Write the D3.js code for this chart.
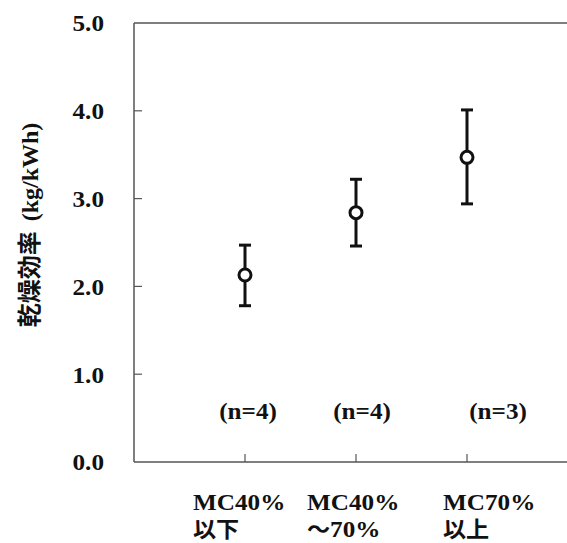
<!DOCTYPE html>
<html>
<head>
<meta charset="utf-8">
<script src="https://cdn.jsdelivr.net/npm/d3@7"></script>
<style>
  body { margin: 0; background: #fff; }
  text { font-family: "Liberation Serif", "Times New Roman", serif; font-weight: bold; fill: #111; }
  .cjk { font-family: "Noto Sans CJK JP", sans-serif; font-weight: bold; }
</style>
</head>
<body>
<svg width="567" height="543"></svg>
<script>
// data
const categories = ["MC40%|以下", "MC40%|〜|70%", "MC70%|以上"];
const means = [2.13, 2.84, 3.47];
const upper = [2.47, 3.22, 4.01];
const lower = [1.78, 2.46, 2.94];
const counts = ["(n=4)", "(n=4)", "(n=3)"];
const yTicks = [0, 1, 2, 3, 4, 5];

const svg = d3.select("svg");

const x = d3.scaleLinear().domain([0, 4]).range([134, 578]);
const y = d3.scaleLinear().domain([0, 5]).range([462, 23]);

// label drift to the right, as in the original
const shift = [0, 3, 28];
const stretch = 1.05;

// frame: left, top, bottom
const axisColor = "#555";
svg.append("line").attr("x1", 134).attr("x2", 134).attr("y1", y(5)).attr("y2", y(0))
  .attr("stroke", axisColor).attr("stroke-width", 1.5);
svg.append("line").attr("x1", 134).attr("x2", 567).attr("y1", y(5)).attr("y2", y(5))
  .attr("stroke", axisColor).attr("stroke-width", 1.5);
svg.append("line").attr("x1", 134).attr("x2", 567).attr("y1", y(0)).attr("y2", y(0))
  .attr("stroke", axisColor).attr("stroke-width", 1.5);

// y ticks
svg.append("g").selectAll("line")
  .data(yTicks.slice(1, -1))
  .join("line")
  .attr("x1", 134).attr("x2", 142)
  .attr("y1", d => y(d)).attr("y2", d => y(d))
  .attr("stroke", axisColor).attr("stroke-width", 1.2);

svg.append("g").selectAll("text")
  .data(yTicks)
  .join("text")
  .attr("transform", d => `translate(104,${y(d)}) scale(${stretch},1)`)
  .attr("text-anchor", "end")
  .attr("dy", "0.35em")
  .style("font-size", "24px")
  .text(d => d.toFixed(1));

// x ticks
svg.append("g").selectAll("line")
  .data(categories)
  .join("line")
  .attr("x1", (d, i) => x(i + 1)).attr("x2", (d, i) => x(i + 1))
  .attr("y1", y(0)).attr("y2", y(0) - 8)
  .attr("stroke", axisColor).attr("stroke-width", 1.2);

// category labels (two lines, left aligned)
const cat = svg.append("g").selectAll("g")
  .data(categories)
  .join("g")
  .attr("transform", (d, i) => `translate(${x(i + 1) - 52 + shift[i]},0)`);
cat.append("text")
  .attr("transform", `translate(0,510) scale(${stretch},1)`)
  .style("font-size", "24px")
  .text(d => d.split("|")[0]);
const line2 = cat.append("text")
  .attr("transform", `translate(0,537) scale(${stretch},1)`)
  .style("font-size", "22px");
line2.append("tspan").attr("class", "cjk").text(d => d.split("|")[1]);
line2.append("tspan").style("font-size", "24px").text(d => d.split("|")[2] || "");

// n labels
svg.append("g").selectAll("text")
  .data(counts)
  .join("text")
  .attr("transform", (d, i) => `translate(${x(i + 1) + 3 + shift[i]},${y(0.59)}) scale(${stretch},1)`)
  .attr("text-anchor", "middle")
  .attr("dy", "0.35em")
  .style("font-size", "24px")
  .text(d => d);

// error bars
const bars = svg.append("g").selectAll("g")
  .data(means)
  .join("g")
  .attr("stroke", "#111")
  .attr("stroke-width", 3);
bars.append("line")
  .attr("x1", (d, i) => x(i + 1)).attr("x2", (d, i) => x(i + 1))
  .attr("y1", (d, i) => y(upper[i])).attr("y2", (d, i) => y(lower[i]));
bars.append("line")
  .attr("x1", (d, i) => x(i + 1) - 6).attr("x2", (d, i) => x(i + 1) + 6)
  .attr("y1", (d, i) => y(upper[i])).attr("y2", (d, i) => y(upper[i]));
bars.append("line")
  .attr("x1", (d, i) => x(i + 1) - 6).attr("x2", (d, i) => x(i + 1) + 6)
  .attr("y1", (d, i) => y(lower[i])).attr("y2", (d, i) => y(lower[i]));
bars.append("circle")
  .attr("cx", (d, i) => x(i + 1))
  .attr("cy", d => y(d))
  .attr("r", 6)
  .attr("fill", "#fff");

// y title
const title = svg.append("text")
  .attr("transform", "translate(38,225) rotate(-90)")
  .attr("text-anchor", "middle");
title.append("tspan").attr("class", "cjk").style("font-size", "24px").text("乾燥効率");
title.append("tspan").style("font-size", "24px").attr("dx", 10).text("(kg/kWh)");
</script>
</body>
</html>
